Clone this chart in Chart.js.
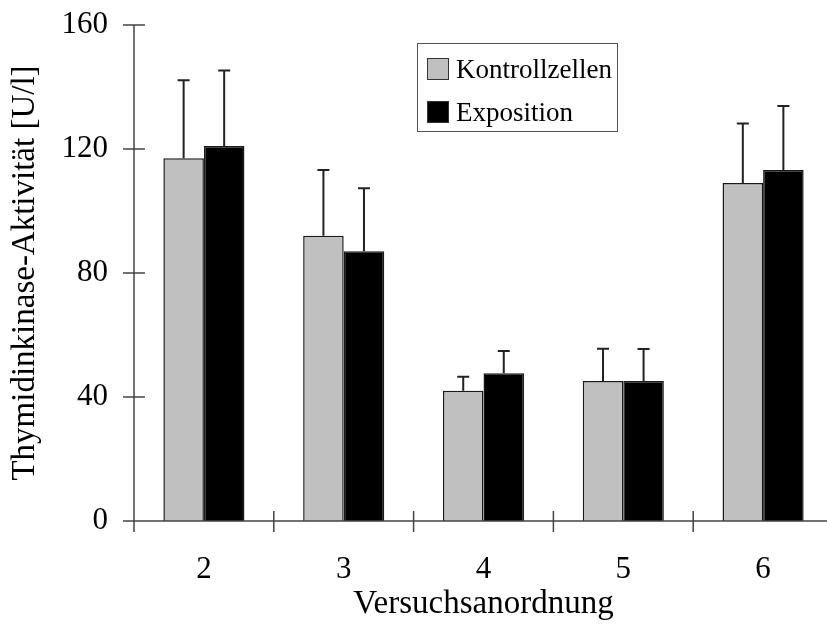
<!DOCTYPE html>
<html lang="de">
<head>
	<meta charset="UTF-8">
	<title>Thymidinkinase-Aktivität</title>
	<script src="https://cdn.jsdelivr.net/npm/chart.js"></script>
	<style>
    	body {
        	margin: 0;
        	padding: 0;
        	background: #fff;
        	overflow: hidden;
    	}
    	#chart {
        	display: block;
    	}
	</style>
</head>
<body>
	<canvas id="chart" width="840" height="633"></canvas>

	<script>
    	// Daten
    	const categories = ['2', '3', '4', '5', '6'];
    	const kontrollzellen = [117, 92, 42, 45.2, 109];
    	const exposition = [121, 87, 47.7, 45.2, 113.2];
    	const kontrollErr = [25.2, 21.2, 4.5, 10.4, 19.2];
    	const expositionErr = [24.3, 20.3, 7.1, 10.3, 20.7];
    	const yTicks = [0, 40, 80, 120, 160];

    	const serif = '"Liberation Serif", "Times New Roman", serif';

    	// error bars, axes with crossing ticks, legend box
    	const decorations = {
        	id: 'decorations',
        	afterDatasetsDraw(chart) {
            	const ctx = chart.ctx;
            	const x = chart.scales.x, y = chart.scales.y;
            	const errs = [kontrollErr, expositionErr];
            	ctx.save();
            	ctx.strokeStyle = '#222';
            	ctx.lineWidth = 2;
            	chart.data.datasets.forEach((ds, di) => {
                	chart.getDatasetMeta(di).data.forEach((bar, i) => {
                    	const top = y.getPixelForValue(ds.data[i]);
                    	const end = y.getPixelForValue(ds.data[i] + errs[di][i]);
                    	ctx.beginPath();
                    	ctx.moveTo(bar.x, top);
                    	ctx.lineTo(bar.x, end);
                    	ctx.moveTo(bar.x - 6, end);
                    	ctx.lineTo(bar.x + 6, end);
                    	ctx.stroke();
                	});
            	});

            	// axes
            	const area = chart.chartArea;
            	ctx.strokeStyle = '#444';
            	ctx.lineWidth = 1.5;
            	ctx.beginPath();
            	ctx.moveTo(area.left, area.top);
            	ctx.lineTo(area.left, area.bottom);
            	ctx.moveTo(area.left, area.bottom);
            	ctx.lineTo(area.right, area.bottom);
            	yTicks.forEach(v => {
                	const py = y.getPixelForValue(v);
                	ctx.moveTo(area.left - 11, py);
                	ctx.lineTo(area.left + 11, py);
            	});
            	const step = (area.right - area.left) / categories.length;
            	for (let i = 0; i <= categories.length; i++) {
                	const px = x.getPixelForValue(0) - step / 2 + i * step;
                	ctx.moveTo(px, area.bottom - 10);
                	ctx.lineTo(px, area.bottom + 11);
            	}
            	ctx.stroke();

            	// legend
            	ctx.strokeStyle = '#555';
            	ctx.lineWidth = 1;
            	ctx.strokeRect(417.5, 43.5, 200, 88);
            	ctx.font = '27px ' + serif;
            	ctx.textBaseline = 'alphabetic';
            	ctx.textAlign = 'left';
            	const rows = [58, 101];
            	chart.data.datasets.forEach((ds, di) => {
                	ctx.fillStyle = ds.backgroundColor;
                	ctx.fillRect(427, rows[di], 21, 21);
                	ctx.strokeStyle = '#333';
                	ctx.strokeRect(427.5, rows[di] + 0.5, 21, 21);
                	ctx.fillStyle = '#000';
                	ctx.fillText(ds.label, 456, rows[di] + 20);
            	});
            	ctx.restore();
        	}
    	};

    	new Chart(document.getElementById('chart').getContext('2d'), {
        	type: 'bar',
        	data: {
            	labels: categories,
            	datasets: [
                	{
                    	label: 'Kontrollzellen',
                    	data: kontrollzellen,
                    	backgroundColor: '#c0c0c0',
                    	borderColor: '#1a1a1a',
                    	borderWidth: 1.5
                	},
                	{
                    	label: 'Exposition',
                    	data: exposition,
                    	backgroundColor: '#000000',
                    	borderColor: '#1a1a1a',
                    	borderWidth: 1.5
                	}
            	]
        	},
        	options: {
            	responsive: false,
            	animation: false,
            	layout: { padding: { top: 25, right: 7, left: 0, bottom: 0 } },
            	categoryPercentage: 0.58,
            	barPercentage: 1.0,
            	plugins: {
                	legend: { display: false },
                	tooltip: { enabled: false }
            	},
            	scales: {
                	x: {
                    	grid: { display: false, drawTicks: false },
                    	border: { display: false },
                    	ticks: { color: '#000', font: { family: serif, size: 31 }, padding: 30 },
                    	title: {
                        	display: true,
                        	text: 'Versuchsanordnung',
                        	color: '#000',
                        	font: { family: serif, size: 33 },
                        	padding: { top: 0, bottom: 9 }
                    	},
                    	afterFit: scale => {
                        	scale.height = 112;
                        	scale.paddingLeft = 0;
                        	scale.paddingRight = 0;
                    	}
                	},
                	y: {
                    	min: 0,
                    	max: 160,
                    	grid: { display: false, drawTicks: false },
                    	border: { display: false },
                    	ticks: {
                        	stepSize: 40,
                        	color: '#000',
                        	font: { family: serif, size: 31 },
                        	padding: 26
                    	},
                    	title: {
                        	display: true,
                        	text: 'Thymidinkinase-Aktivität [U/l]',
                        	color: '#000',
                        	font: { family: serif, size: 33 },
                        	padding: { top: 6, bottom: 0 }
                    	},
                    	afterFit: scale => {
                        	scale.width = 134;
                        	scale.paddingTop = 0;
                        	scale.paddingBottom = 0;
                    	}
                	}
            	}
        	},
        	plugins: [decorations]
    	});
	</script>
</body>
</html>
